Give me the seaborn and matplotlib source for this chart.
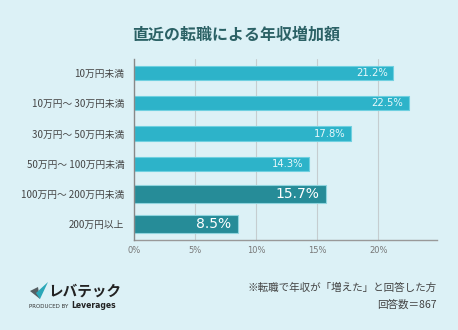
import matplotlib
matplotlib.use("Agg")
import matplotlib.pyplot as plt
import seaborn as sns
import pandas as pd
from matplotlib.patches import Polygon

categories = ["10万円未満", "10万円～ 30万円未満", "30万円～ 50万円未満",
              "50万円～ 100万円未満", "100万円～ 200万円未満", "200万円以上"]
values = [21.2, 22.5, 17.8, 14.3, 15.7, 8.5]
highlight = [False, False, False, False, True, True]
xticks = [0, 5, 10, 15, 20]
xtick_labels = ["0%", "5%", "10%", "15%", "20%"]

bg = "#dcf1f6"
light = "#2db3c9"
dark = "#268c98"

sns.set_theme(style="white")
plt.rcParams['font.family'] = ['Noto Sans CJK JP', 'DejaVu Sans']

fig = plt.figure(figsize=(4.58, 3.30), dpi=100, facecolor=bg)
W, H = 458, 330
ax = fig.add_axes([134 / W, 1 - 240 / H, (437 - 134) / W, (240 - 59) / H])
ax.set_facecolor(bg)

df = pd.DataFrame({"cat": categories, "val": values, "hl": highlight})
df_light = df.copy(); df_light.loc[df_light.hl, "val"] = 0
df_dark = df.copy(); df_dark.loc[~df_dark.hl, "val"] = 0

sns.barplot(data=df_light, x="val", y="cat", order=categories, color=light,
            width=0.47, ax=ax, saturation=1, edgecolor="#6fd0e0", linewidth=0.8, zorder=3)
sns.barplot(data=df_dark, x="val", y="cat", order=categories, color=dark,
            width=0.60, ax=ax, saturation=1, edgecolor="#8fd4de", linewidth=0.8, zorder=3)

for i, (v, h) in enumerate(zip(values, highlight)):
    if h:
        ax.text(v - 0.55, i, f"{v}%", ha="right", va="center", color="white",
                fontsize=10, zorder=5, family=['DejaVu Sans'])
    else:
        ax.text(v - 0.45, i, f"{v}%", ha="right", va="center", color="#e8f8fb",
                fontsize=7.2, zorder=5, family=['DejaVu Sans'])

ax.set_xlim(0, 24.8)
ax.set_ylim(5.53, -0.47)
ax.set_xticks(xticks)
ax.set_xticklabels(xtick_labels, fontsize=6, color="#777777", family=['DejaVu Sans'])
ax.tick_params(axis="x", length=0, pad=4)
ax.tick_params(axis="y", length=0, pad=7, labelsize=7, labelcolor="#444444")
ax.set_xlabel("")
ax.set_ylabel("")
for x in xticks[1:]:
    ax.axvline(x, color="#c5cdd0", lw=0.8, zorder=1)
for s in ["top", "right"]:
    ax.spines[s].set_visible(False)
ax.spines["left"].set_color("#888888")
ax.spines["left"].set_linewidth(1.0)
ax.spines["bottom"].set_color("#999999")
ax.spines["bottom"].set_linewidth(1.0)
ax.spines["left"].set_zorder(6)

fig.text(236 / W, 1 - 35 / H, "直近の転職による年収増加額", ha="center", va="center",
         fontsize=11.5, fontweight="bold", color="#2b6165")

fig.text(437 / W, 1 - 288 / H, "※転職で年収が「増えた」と回答した方", ha="right", va="center",
         fontsize=7.6, color="#444444")
fig.text(437 / W, 1 - 305 / H, "回答数＝867", ha="right", va="center",
         fontsize=7.6, color="#444444")

# logo
chk1 = Polygon([[30 / W, 1 - 291 / H], [38 / W, 1 - 287 / H], [40 / W, 1 - 299 / H]],
               closed=True, transform=fig.transFigure, facecolor="#555f63", edgecolor="none")
chk2 = Polygon([[36 / W, 1 - 293 / H], [48 / W, 1 - 282 / H], [40 / W, 1 - 299 / H]],
               closed=True, transform=fig.transFigure, facecolor="#2aa7b8", edgecolor="none")
fig.add_artist(chk1)
fig.add_artist(chk2)
fig.text(48 / W, 1 - 291 / H, "レバテック", ha="left", va="center", fontsize=10.5,
         fontweight="bold", color="#222222", fontstyle="italic")
fig.text(29 / W, 1 - 306 / H, "PRODUCED BY", ha="left", va="center", fontsize=4,
         color="#333333", family=['DejaVu Sans'])
fig.text(71 / W, 1 - 306 / H, "Leverages", ha="left", va="center", fontsize=5.5,
         fontweight="bold", color="#222222", family=['DejaVu Sans'])

fig.savefig("out.png", dpi=100, facecolor=bg)
